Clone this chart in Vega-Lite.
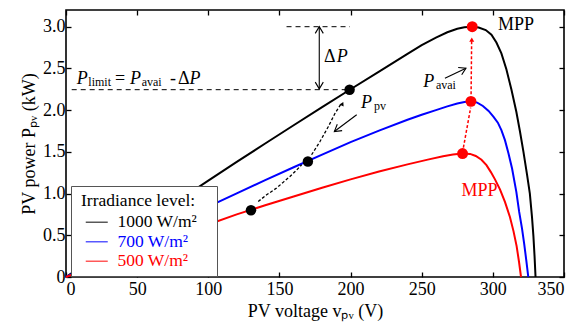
{
  "$schema": "https://vega.github.io/schema/vega-lite/v6.json",
  "width": 498,
  "height": 267,
  "autosize": {"type": "none"},
  "padding": {"left": 66, "top": 10, "right": 12, "bottom": 47},
  "background": "white",
  "config": {
    "view": {"stroke": "black", "strokeWidth": 1.6},
    "font": "Liberation Serif",
    "axis": {
      "domain": false, "grid": false, "tickColor": "black", "tickSize": -5, "tickWidth": 1.3,
      "labelFont": "Liberation Serif", "labelFontSize": 18, "labelColor": "black",
      "titleFont": "Liberation Serif", "titleFontSize": 18, "titleFontWeight": "normal", "titleColor": "black"
    }
  },
  "layer": [
    {
      "encoding": {
        "x": {"field": "V", "type": "quantitative", "scale": {"domain": [0, 350], "nice": false, "zero": false},
              "axis": {"values": [0, 50, 100, 150, 200, 250, 300, 350], "title": "PV voltage vₚᵥ (V)", "labelPadding": 8, "titlePadding": 4}},
        "y": {"field": "P", "type": "quantitative", "scale": {"domain": [0, 3.2], "nice": false, "zero": false},
              "axis": {"values": [0, 0.5, 1, 1.5, 2, 2.5, 3], "labelExpr": "datum.value == 0 ? '0' : format(datum.value, '.1f')", "title": "PV power Pₚᵥ (kW)", "labelPadding": 6, "titlePadding": 4}}
      },
      "layer": [
        {
          "data": {"values": [
            {"s": "1000 W/m²", "V": 0, "P": 0}, {"s": "1000 W/m²", "V": 20, "P": 0.236}, {"s": "1000 W/m²", "V": 40, "P": 0.469}, {"s": "1000 W/m²", "V": 60, "P": 0.7}, {"s": "1000 W/m²", "V": 80, "P": 0.929}, {"s": "1000 W/m²", "V": 100, "P": 1.155}, {"s": "1000 W/m²", "V": 120, "P": 1.379}, {"s": "1000 W/m²", "V": 140, "P": 1.6}, {"s": "1000 W/m²", "V": 160, "P": 1.819}, {"s": "1000 W/m²", "V": 180, "P": 2.036}, {"s": "1000 W/m²", "V": 200, "P": 2.25}, {"s": "1000 W/m²", "V": 220, "P": 2.462}, {"s": "1000 W/m²", "V": 240, "P": 2.675}, {"s": "1000 W/m²", "V": 250, "P": 2.78}, {"s": "1000 W/m²", "V": 260, "P": 2.87}, {"s": "1000 W/m²", "V": 268, "P": 2.933}, {"s": "1000 W/m²", "V": 275, "P": 2.975}, {"s": "1000 W/m²", "V": 280, "P": 2.993}, {"s": "1000 W/m²", "V": 285, "P": 3.0}, {"s": "1000 W/m²", "V": 290, "P": 2.99}, {"s": "1000 W/m²", "V": 295, "P": 2.96}, {"s": "1000 W/m²", "V": 299, "P": 2.905}, {"s": "1000 W/m²", "V": 302.5, "P": 2.81}, {"s": "1000 W/m²", "V": 306, "P": 2.68}, {"s": "1000 W/m²", "V": 309.5, "P": 2.49}, {"s": "1000 W/m²", "V": 313, "P": 2.25}, {"s": "1000 W/m²", "V": 316.5, "P": 1.98}, {"s": "1000 W/m²", "V": 319, "P": 1.75}, {"s": "1000 W/m²", "V": 321.5, "P": 1.5}, {"s": "1000 W/m²", "V": 324, "P": 1.23}, {"s": "1000 W/m²", "V": 326, "P": 1.0}, {"s": "1000 W/m²", "V": 327.5, "P": 0.72}, {"s": "1000 W/m²", "V": 328.5, "P": 0.49}, {"s": "1000 W/m²", "V": 329.3, "P": 0.25}, {"s": "1000 W/m²", "V": 330, "P": 0},
            {"s": "700 W/m²", "V": 0, "P": 0}, {"s": "700 W/m²", "V": 20, "P": 0.174}, {"s": "700 W/m²", "V": 40, "P": 0.346}, {"s": "700 W/m²", "V": 60, "P": 0.514}, {"s": "700 W/m²", "V": 80, "P": 0.68}, {"s": "700 W/m²", "V": 100, "P": 0.843}, {"s": "700 W/m²", "V": 120, "P": 1.003}, {"s": "700 W/m²", "V": 140, "P": 1.161}, {"s": "700 W/m²", "V": 160, "P": 1.315}, {"s": "700 W/m²", "V": 180, "P": 1.467}, {"s": "700 W/m²", "V": 200, "P": 1.616}, {"s": "700 W/m²", "V": 220, "P": 1.755}, {"s": "700 W/m²", "V": 240, "P": 1.885}, {"s": "700 W/m²", "V": 250, "P": 1.945}, {"s": "700 W/m²", "V": 260, "P": 2.0}, {"s": "700 W/m²", "V": 268, "P": 2.045}, {"s": "700 W/m²", "V": 275, "P": 2.08}, {"s": "700 W/m²", "V": 280, "P": 2.097}, {"s": "700 W/m²", "V": 284.6, "P": 2.105}, {"s": "700 W/m²", "V": 289, "P": 2.09}, {"s": "700 W/m²", "V": 293, "P": 2.05}, {"s": "700 W/m²", "V": 297, "P": 1.99}, {"s": "700 W/m²", "V": 300.5, "P": 1.92}, {"s": "700 W/m²", "V": 303.5, "P": 1.85}, {"s": "700 W/m²", "V": 306, "P": 1.76}, {"s": "700 W/m²", "V": 308.5, "P": 1.64}, {"s": "700 W/m²", "V": 311, "P": 1.48}, {"s": "700 W/m²", "V": 313.5, "P": 1.3}, {"s": "700 W/m²", "V": 316.5, "P": 1.02}, {"s": "700 W/m²", "V": 318.5, "P": 0.78}, {"s": "700 W/m²", "V": 320.5, "P": 0.58}, {"s": "700 W/m²", "V": 322, "P": 0.4}, {"s": "700 W/m²", "V": 323.5, "P": 0.2}, {"s": "700 W/m²", "V": 324.9, "P": 0},
            {"s": "500 W/m²", "V": 0, "P": 0}, {"s": "500 W/m²", "V": 20, "P": 0.13}, {"s": "500 W/m²", "V": 40, "P": 0.26}, {"s": "500 W/m²", "V": 60, "P": 0.39}, {"s": "500 W/m²", "V": 80, "P": 0.51}, {"s": "500 W/m²", "V": 100, "P": 0.63}, {"s": "500 W/m²", "V": 120, "P": 0.75}, {"s": "500 W/m²", "V": 140, "P": 0.86}, {"s": "500 W/m²", "V": 160, "P": 0.965}, {"s": "500 W/m²", "V": 180, "P": 1.07}, {"s": "500 W/m²", "V": 200, "P": 1.17}, {"s": "500 W/m²", "V": 220, "P": 1.265}, {"s": "500 W/m²", "V": 240, "P": 1.35}, {"s": "500 W/m²", "V": 255, "P": 1.41}, {"s": "500 W/m²", "V": 265, "P": 1.447}, {"s": "500 W/m²", "V": 272, "P": 1.468}, {"s": "500 W/m²", "V": 278.7, "P": 1.48}, {"s": "500 W/m²", "V": 284, "P": 1.475}, {"s": "500 W/m²", "V": 288, "P": 1.45}, {"s": "500 W/m²", "V": 292, "P": 1.405}, {"s": "500 W/m²", "V": 295.5, "P": 1.34}, {"s": "500 W/m²", "V": 298.5, "P": 1.26}, {"s": "500 W/m²", "V": 301.5, "P": 1.17}, {"s": "500 W/m²", "V": 305, "P": 1.05}, {"s": "500 W/m²", "V": 308.5, "P": 0.9}, {"s": "500 W/m²", "V": 312, "P": 0.72}, {"s": "500 W/m²", "V": 314.5, "P": 0.55}, {"s": "500 W/m²", "V": 316.7, "P": 0.37}, {"s": "500 W/m²", "V": 318.4, "P": 0.18}, {"s": "500 W/m²", "V": 319.8, "P": 0}
          ]},
          "mark": {"type": "line", "strokeWidth": 2},
          "encoding": {
            "color": {"field": "s", "type": "nominal",
              "scale": {"domain": ["1000 W/m²", "700 W/m²", "500 W/m²"], "range": ["black", "blue", "red"]},
              "legend": {
                "orient": "none", "legendX": 5, "legendY": 176, "title": "Irradiance level:",
                "titleFont": "Liberation Serif", "titleFontSize": 17.5, "titleFontWeight": "normal", "titleColor": "black", "titlePadding": 4,
                "labelFont": "Liberation Serif", "labelFontSize": 17.5, "labelOffset": 23,
                "symbolType": "M 0 0 L 4 0", "symbolSize": 121, "symbolStrokeWidth": 1.5, "symbolOpacity": 0.65,
                "fillColor": "white", "strokeColor": "#555555", "padding": 6, "rowPadding": 0.5,
                "encode": {
                  "labels": {"update": {
                    "text": {"signal": "datum.label + '\u00a0\u00a0\u00a0\u200b'"},
                    "fill": {"signal": "datum.value == '700 W/m²' ? 'blue' : (datum.value == '500 W/m²' ? 'red' : 'black')"}
                  }},
                  "title": {"update": {"dx": {"value": 4}}}
                }
              }}
          }
        },
        {
          "data": {"values": [{"V": 155, "V2": 199.6, "P": 3.0}, {"V": 4, "V2": 199, "P": 2.245}]},
          "mark": {"type": "rule", "strokeDash": [5, 4], "strokeWidth": 1, "color": "black"},
          "encoding": {"x2": {"field": "V2"}}
        },
        {
          "data": {"values": [{"V": 178, "P": 2.255, "V2": 178, "P2": 3.0}, {"V": 204.3, "P": 1.944, "V2": 188.6, "P2": 1.744}, {"V": 266.3, "P": 2.383, "V2": 281.1, "P2": 2.503}]},
          "mark": {"type": "rule", "strokeWidth": 1.1, "color": "black"},
          "encoding": {"x2": {"field": "V2"}, "y2": {"field": "P2"}}
        },
        {
          "data": {"values": [
            {"g": 1, "V": 135.1, "P": 0.905}, {"g": 1, "V": 141, "P": 0.985}, {"g": 1, "V": 148, "P": 1.066}, {"g": 1, "V": 153, "P": 1.14}, {"g": 1, "V": 157.4, "P": 1.205}, {"g": 1, "V": 162, "P": 1.28}, {"g": 1, "V": 165.6, "P": 1.345},
            {"g": 2, "V": 172.6, "P": 1.465}, {"g": 2, "V": 178.5, "P": 1.624}, {"g": 2, "V": 184.3, "P": 1.8}, {"g": 2, "V": 189, "P": 1.96}, {"g": 2, "V": 193.5, "P": 2.08}
          ]},
          "mark": {"type": "line", "strokeDash": [3, 2], "strokeWidth": 1.3, "color": "black"},
          "encoding": {"detail": {"field": "g"}}
        },
        {
          "data": {"values": [
            {"g": 1, "V": 279.3, "P": 1.55}, {"g": 1, "V": 284.4, "P": 2.03},
            {"g": 2, "V": 284.7, "P": 2.19}, {"g": 2, "V": 285.1, "P": 2.85}
          ]},
          "mark": {"type": "line", "strokeDash": [3, 2], "strokeWidth": 1.5, "color": "red"},
          "encoding": {"detail": {"field": "g"}}
        },
        {
          "data": {"values": [{"V": 130, "P": 0.8}, {"V": 170, "P": 1.385}, {"V": 199.3, "P": 2.245}]},
          "mark": {"type": "point", "filled": true, "opacity": 1, "size": 110, "color": "black"}
        },
        {
          "data": {"values": [{"V": 278.7, "P": 1.48}, {"V": 284.6, "P": 2.105}, {"V": 285.5, "P": 3.0}]},
          "mark": {"type": "point", "filled": true, "opacity": 1, "size": 120, "color": "red"}
        },
        {
          "data": {"values": [{"V": 178, "P": 3.0}]},
          "mark": {"type": "point", "shape": "M -0.6 1 L 0 0 L 0.6 1", "filled": false, "opacity": 1, "size": 180, "color": "black", "strokeWidth": 1.1, "angle": 0}
        },
        {
          "data": {"values": [{"V": 178, "P": 2.255}]},
          "mark": {"type": "point", "shape": "M -0.6 1 L 0 0 L 0.6 1", "filled": false, "opacity": 1, "size": 180, "color": "black", "strokeWidth": 1.1, "angle": 180}
        },
        {
          "data": {"values": [{"V": 188.6, "P": 1.744}]},
          "mark": {"type": "point", "shape": "M -0.6 1 L 0 0 L 0.6 1", "filled": false, "opacity": 1, "size": 180, "color": "black", "strokeWidth": 1.1, "angle": 233}
        },
        {
          "data": {"values": [{"V": 281.1, "P": 2.503}]},
          "mark": {"type": "point", "shape": "M -0.6 1 L 0 0 L 0.6 1", "filled": false, "opacity": 1, "size": 180, "color": "black", "strokeWidth": 1.1, "angle": 64}
        },
        {
          "data": {"values": [{"V": 194.9, "P": 2.096}]},
          "mark": {"type": "point", "shape": "M -0.6 1 L 0 0 L 0.6 1 Z", "filled": true, "opacity": 1, "size": 60, "color": "black", "angle": 27}
        },
        {
          "data": {"values": [{"V": 285.2, "P": 2.87}]},
          "mark": {"type": "point", "shape": "M -0.6 1 L 0 0 L 0.6 1 Z", "filled": true, "opacity": 1, "size": 70, "color": "red", "angle": 1}
        },
        {
          "data": {"values": [{"V": 7.5, "P": 2.311, "t": "P"}, {"V": 45, "P": 2.311, "t": "P"}, {"V": 86.8, "P": 2.311, "t": "P"}, {"V": 190.2, "P": 2.575, "t": "P"}, {"V": 207.3, "P": 2.024, "t": "P"}, {"V": 251.1, "P": 2.283, "t": "P"}]},
          "mark": {"type": "text", "font": "Liberation Serif", "fontStyle": "italic", "fontSize": 18, "align": "left", "baseline": "alphabetic", "color": "black"},
          "encoding": {"text": {"field": "t"}}
        },
        {
          "data": {"values": [{"V": 15.7, "P": 2.29, "t": "limit"}, {"V": 53.2, "P": 2.29, "t": "avai"}, {"V": 216.4, "P": 2.005, "t": "pv"}, {"V": 260, "P": 2.25, "t": "avai"}]},
          "mark": {"type": "text", "font": "Liberation Serif", "fontSize": 12, "align": "left", "baseline": "alphabetic", "color": "black"},
          "encoding": {"text": {"field": "t"}}
        },
        {
          "data": {"values": [{"V": 34.4, "P": 2.311, "t": "="}, {"V": 73.1, "P": 2.311, "t": "-"}, {"V": 78.7, "P": 2.311, "t": "Δ"}, {"V": 181.3, "P": 2.575, "t": "Δ"}, {"V": 303.6, "P": 2.96, "t": "MPP"}]},
          "mark": {"type": "text", "font": "Liberation Serif", "fontSize": 18, "align": "left", "baseline": "alphabetic", "color": "black"},
          "encoding": {"text": {"field": "t"}}
        },
        {
          "data": {"values": [{"V": 278, "P": 0.974, "t": "MPP"}]},
          "mark": {"type": "text", "font": "Liberation Serif", "fontSize": 18, "align": "left", "baseline": "alphabetic", "color": "red"},
          "encoding": {"text": {"field": "t"}}
        }
      ]
    },
    {
      "data": {"values": [{"V": 0, "P": 0}]},
      "mark": {"type": "point", "opacity": 0},
      "encoding": {
        "x": {"field": "V", "type": "quantitative", "scale": {"domain": [0, 350], "nice": false, "zero": false},
              "axis": {"orient": "top", "values": [0, 50, 100, 150, 200, 250, 300, 350], "labels": false, "title": null}},
        "y": {"field": "P", "type": "quantitative", "scale": {"domain": [0, 3.2], "nice": false, "zero": false},
              "axis": {"orient": "right", "values": [0, 0.5, 1, 1.5, 2, 2.5, 3], "labels": false, "title": null}}
      }
    }
  ],
  "resolve": {"axis": {"x": "independent", "y": "independent"}}
}
